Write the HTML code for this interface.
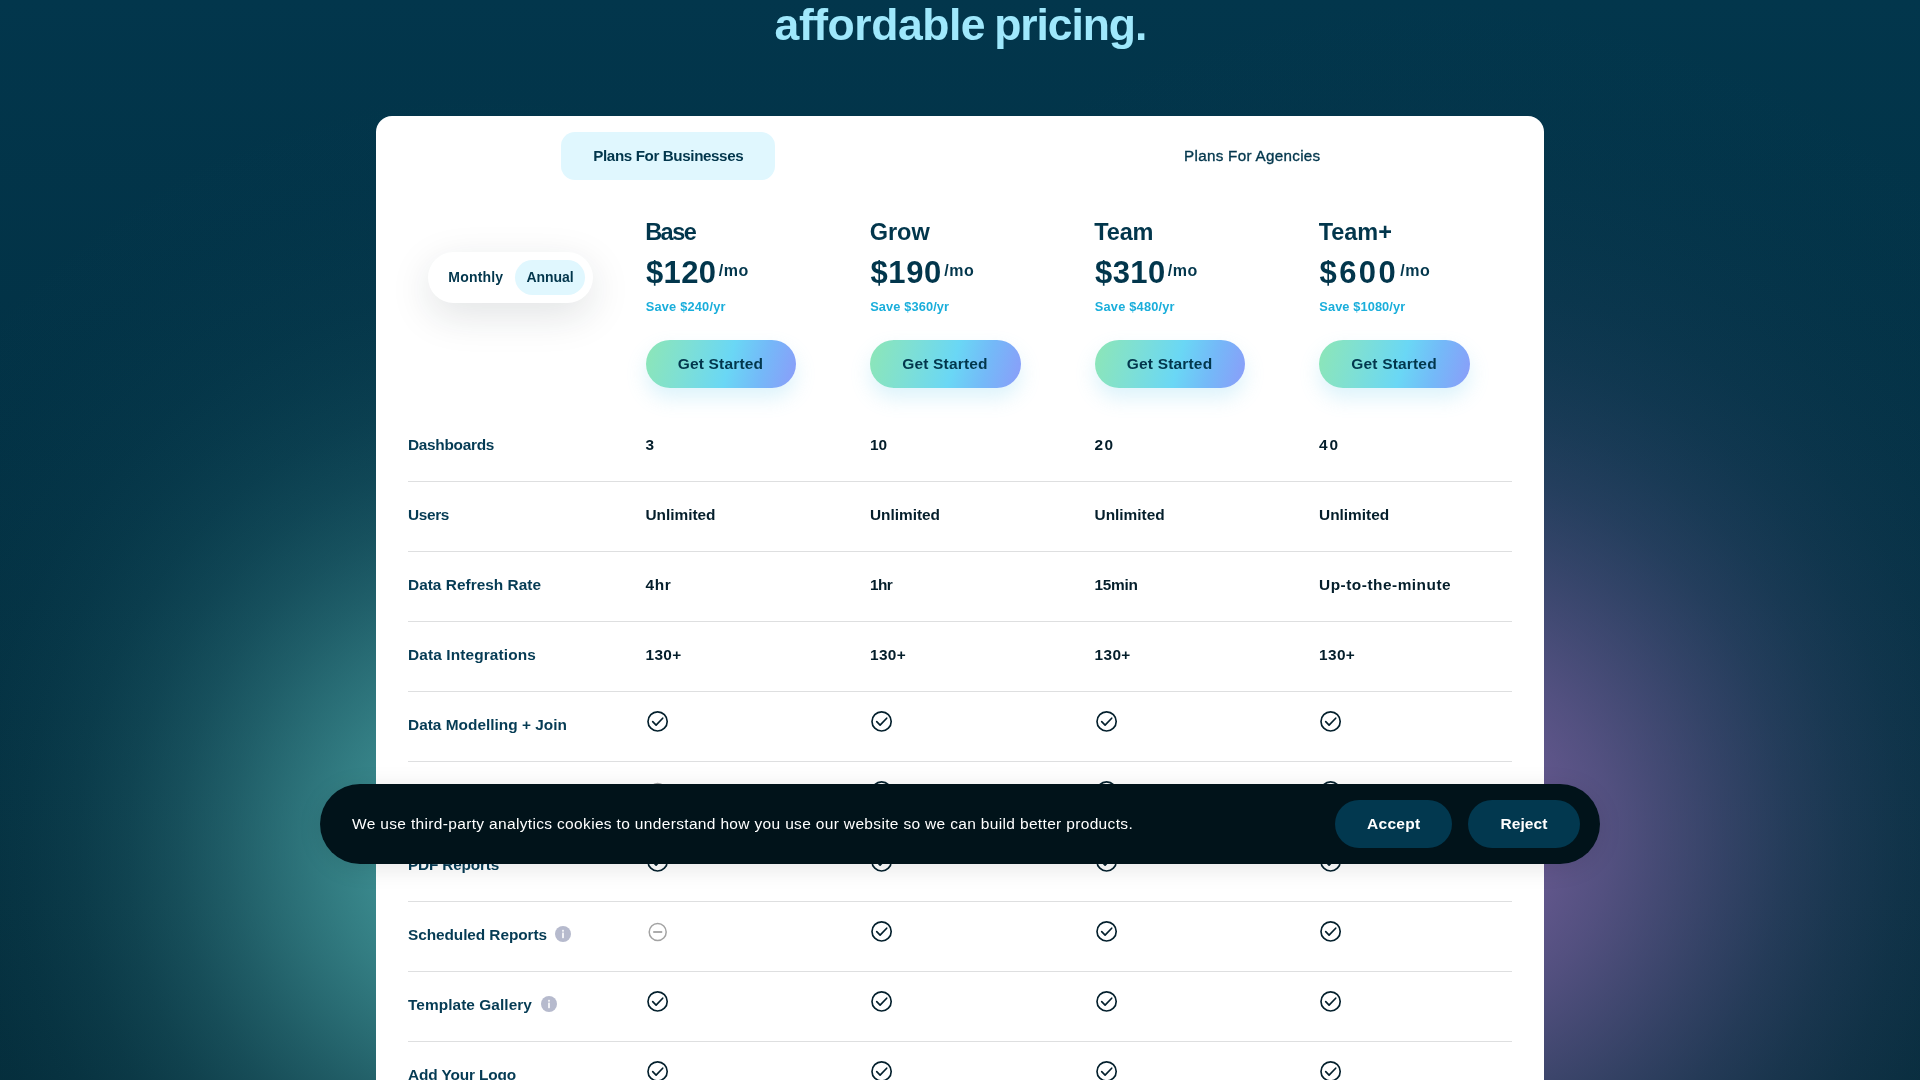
<!DOCTYPE html>
<html lang="en"><head><meta charset="utf-8"><title>Pricing</title>
<style>
*{box-sizing:border-box}
html,body{margin:0;padding:0;width:1920px;height:1080px;overflow:hidden}
body{background:#02364c;font-family:"Liberation Sans",sans-serif}
#page{position:relative;width:1920px;height:1080px;overflow:hidden}
.bg{position:absolute;left:0;top:0;width:1920px;height:1080px;overflow:hidden;background:radial-gradient(ellipse 708px 782px at 481px 850px,rgba(75,165,165,0.8800) 0.00%,rgba(75,165,165,0.8524) 7.14%,rgba(75,165,165,0.7746) 14.29%,rgba(75,165,165,0.6605) 21.43%,rgba(75,165,165,0.5283) 28.57%,rgba(75,165,165,0.3965) 35.71%,rgba(75,165,165,0.2792) 42.86%,rgba(75,165,165,0.1845) 50.00%,rgba(75,165,165,0.1143) 57.14%,rgba(75,165,165,0.0665) 64.29%,rgba(75,165,165,0.0363) 71.43%,rgba(75,165,165,0.0186) 78.57%,rgba(75,165,165,0.0089) 85.71%,rgba(75,165,165,0.0040) 92.86%,rgba(75,165,165,0.0000) 100.00%),radial-gradient(ellipse 812px 860px at 1438px 835px,rgba(117,95,156,0.9300) 0.00%,rgba(117,95,156,0.9008) 7.14%,rgba(117,95,156,0.8186) 14.29%,rgba(117,95,156,0.6980) 21.43%,rgba(117,95,156,0.5583) 28.57%,rgba(117,95,156,0.4191) 35.71%,rgba(117,95,156,0.2951) 42.86%,rgba(117,95,156,0.1949) 50.00%,rgba(117,95,156,0.1208) 57.14%,rgba(117,95,156,0.0703) 64.29%,rgba(117,95,156,0.0383) 71.43%,rgba(117,95,156,0.0196) 78.57%,rgba(117,95,156,0.0094) 85.71%,rgba(117,95,156,0.0042) 92.86%,rgba(117,95,156,0.0000) 100.00%),linear-gradient(180deg,#02364c 0%,#032b3a 100%)}
.card{position:absolute;left:376px;top:116px;width:1168px;height:964px;background:#fff;border-radius:16px 16px 0 0}
.L{position:absolute;left:0;top:0;width:1920px;height:1080px;will-change:transform}
.t{position:absolute;white-space:nowrap;display:block}
.tab{position:absolute;left:561px;top:132px;width:214px;height:48px;border-radius:14px;background:#e0f7fe}
.tog{position:absolute;left:428px;top:252px;width:165px;height:51px;border-radius:26px;background:#fff;box-shadow:0 12px 40px rgba(20,40,50,.13)}
.togon{position:absolute;left:515px;top:260px;width:70px;height:35px;border-radius:18px;background:#e0f7fe}
.btn{position:absolute;top:340px;width:150.4px;height:48px;border-radius:24px;background:linear-gradient(105deg,#8de6b6 0%,#7ddfd6 28%,#6ad7f5 55%,#74b9f8 76%,#8b9cf9 100%);box-shadow:0 10px 20px rgba(96,200,235,.22)}
.hr{position:absolute;left:408px;width:1104px;height:1px;background:#dedfe0}
.ic{position:absolute;display:block}
.banner{position:absolute;left:320px;top:784px;width:1280px;height:80px;border-radius:40px;background:#01131a;box-shadow:0 4px 24px rgba(0,0,0,.1)}
.cb{position:absolute;top:800px;height:48px;border-radius:24px;background:#02384f}
</style></head><body>
<div id="page">
<div class="bg"></div>
<div class="card"></div>
<div class="tab"></div>
<div class="tog"></div><div class="togon"></div>
<div class="L">
<span class="t " style="left:774.60px;top:-3.00px;font-size:44.5px;line-height:56px;font-weight:700;color:#9fe8fc;letter-spacing:-0.463px;">affordable</span>
<span class="t " style="left:994.20px;top:-3.00px;font-size:44.5px;line-height:56px;font-weight:700;color:#9fe8fc;letter-spacing:-1.090px;">pricing.</span>
<span class="t " style="left:593.30px;top:146.00px;font-size:15.2px;line-height:19px;font-weight:700;color:#02364c;letter-spacing:-0.393px;">Plans For Businesses</span>
<span class="t " style="left:1184.00px;top:146.00px;font-size:15.2px;line-height:19px;font-weight:400;color:#02364c;letter-spacing:0.313px;-webkit-text-stroke:0.35px #02364c;">Plans For Agencies</span>
<span class="t " style="left:448.30px;top:268.00px;font-size:14px;line-height:18px;font-weight:700;color:#02364c;letter-spacing:0.192px;">Monthly</span>
<span class="t " style="left:526.50px;top:268.00px;font-size:14px;line-height:18px;font-weight:700;color:#02364c;letter-spacing:-0.076px;">Annual</span>
<span class="t " style="left:645.20px;top:218.00px;font-size:23.5px;line-height:29px;font-weight:700;color:#02364c;letter-spacing:-1.547px;">Base</span>
<span class="t " style="left:646.00px;top:253.00px;font-size:31px;line-height:39px;font-weight:700;color:#02364c;letter-spacing:0.383px;">$120</span>
<span class="t " style="left:718.70px;top:260.60px;font-size:16px;line-height:20px;font-weight:700;color:#02364c;letter-spacing:0.516px;">/mo</span>
<span class="t " style="left:645.70px;top:299.00px;font-size:12.8px;line-height:16px;font-weight:700;color:#1aaedb;letter-spacing:0.203px;">Save $240/yr</span>
<div class="btn" style="left:645.7px"></div>
<span class="t " style="left:677.70px;top:354.00px;font-size:15.5px;line-height:19px;font-weight:700;color:#02364c;letter-spacing:0.176px;">Get Started</span>
<span class="t " style="left:869.70px;top:218.00px;font-size:23.5px;line-height:29px;font-weight:700;color:#02364c;letter-spacing:-0.016px;">Grow</span>
<span class="t " style="left:870.50px;top:253.00px;font-size:31px;line-height:39px;font-weight:700;color:#02364c;letter-spacing:0.633px;">$190</span>
<span class="t " style="left:944.20px;top:260.60px;font-size:16px;line-height:20px;font-weight:700;color:#02364c;letter-spacing:0.516px;">/mo</span>
<span class="t " style="left:870.20px;top:299.00px;font-size:12.8px;line-height:16px;font-weight:700;color:#1aaedb;letter-spacing:0.120px;">Save $360/yr</span>
<div class="btn" style="left:870.2px"></div>
<span class="t " style="left:902.20px;top:354.00px;font-size:15.5px;line-height:19px;font-weight:700;color:#02364c;letter-spacing:0.176px;">Get Started</span>
<span class="t " style="left:1094.30px;top:218.00px;font-size:23.5px;line-height:29px;font-weight:700;color:#02364c;letter-spacing:-0.164px;">Team</span>
<span class="t " style="left:1095.10px;top:253.00px;font-size:31px;line-height:39px;font-weight:700;color:#02364c;letter-spacing:0.383px;">$310</span>
<span class="t " style="left:1167.80px;top:260.60px;font-size:16px;line-height:20px;font-weight:700;color:#02364c;letter-spacing:0.516px;">/mo</span>
<span class="t " style="left:1094.80px;top:299.00px;font-size:12.8px;line-height:16px;font-weight:700;color:#1aaedb;letter-spacing:0.203px;">Save $480/yr</span>
<div class="btn" style="left:1094.8px"></div>
<span class="t " style="left:1126.80px;top:354.00px;font-size:15.5px;line-height:19px;font-weight:700;color:#02364c;letter-spacing:0.176px;">Get Started</span>
<span class="t " style="left:1318.80px;top:218.00px;font-size:23.5px;line-height:29px;font-weight:700;color:#02364c;letter-spacing:-0.075px;">Team+</span>
<span class="t " style="left:1319.60px;top:253.00px;font-size:31px;line-height:39px;font-weight:700;color:#02364c;letter-spacing:2.383px;">$600</span>
<span class="t " style="left:1400.30px;top:260.60px;font-size:16px;line-height:20px;font-weight:700;color:#02364c;letter-spacing:0.516px;">/mo</span>
<span class="t " style="left:1319.30px;top:299.00px;font-size:12.8px;line-height:16px;font-weight:700;color:#1aaedb;letter-spacing:0.101px;">Save $1080/yr</span>
<div class="btn" style="left:1319.3px"></div>
<span class="t " style="left:1351.30px;top:354.00px;font-size:15.5px;line-height:19px;font-weight:700;color:#02364c;letter-spacing:0.176px;">Get Started</span>
<span class="t " style="left:408.00px;top:435.00px;font-size:15.4px;line-height:19px;font-weight:700;color:#053b54;letter-spacing:-0.295px;">Dashboards</span>
<span class="t " style="left:645.50px;top:435.00px;font-size:15.4px;line-height:19px;font-weight:700;color:#041e2b;letter-spacing:0.438px;">3</span>
<span class="t " style="left:870.00px;top:435.00px;font-size:15.4px;line-height:19px;font-weight:700;color:#041e2b;letter-spacing:-0.062px;">10</span>
<span class="t " style="left:1094.60px;top:435.00px;font-size:15.4px;line-height:19px;font-weight:700;color:#041e2b;letter-spacing:1.438px;">20</span>
<span class="t " style="left:1319.10px;top:435.00px;font-size:15.4px;line-height:19px;font-weight:700;color:#041e2b;letter-spacing:1.938px;">40</span>
<div class="hr" style="top:481px"></div>
<span class="t " style="left:408.00px;top:505.00px;font-size:15.4px;line-height:19px;font-weight:700;color:#053b54;letter-spacing:-0.359px;">Users</span>
<span class="t " style="left:645.50px;top:505.00px;font-size:15.4px;line-height:19px;font-weight:700;color:#041e2b;letter-spacing:-0.014px;">Unlimited</span>
<span class="t " style="left:870.00px;top:505.00px;font-size:15.4px;line-height:19px;font-weight:700;color:#041e2b;letter-spacing:-0.014px;">Unlimited</span>
<span class="t " style="left:1094.60px;top:505.00px;font-size:15.4px;line-height:19px;font-weight:700;color:#041e2b;letter-spacing:-0.014px;">Unlimited</span>
<span class="t " style="left:1319.10px;top:505.00px;font-size:15.4px;line-height:19px;font-weight:700;color:#041e2b;letter-spacing:-0.014px;">Unlimited</span>
<div class="hr" style="top:551px"></div>
<span class="t " style="left:408.00px;top:575.00px;font-size:15.4px;line-height:19px;font-weight:700;color:#053b54;letter-spacing:0.024px;">Data Refresh Rate</span>
<span class="t " style="left:645.50px;top:575.00px;font-size:15.4px;line-height:19px;font-weight:700;color:#041e2b;letter-spacing:0.682px;">4hr</span>
<span class="t " style="left:870.00px;top:575.00px;font-size:15.4px;line-height:19px;font-weight:700;color:#041e2b;letter-spacing:-0.651px;">1hr</span>
<span class="t " style="left:1094.60px;top:575.00px;font-size:15.4px;line-height:19px;font-weight:700;color:#041e2b;letter-spacing:-0.297px;">15min</span>
<span class="t " style="left:1319.10px;top:575.00px;font-size:15.4px;line-height:19px;font-weight:700;color:#041e2b;letter-spacing:0.503px;">Up-to-the-minute</span>
<div class="hr" style="top:621px"></div>
<span class="t " style="left:408.00px;top:645.00px;font-size:15.4px;line-height:19px;font-weight:700;color:#053b54;letter-spacing:0.134px;">Data Integrations</span>
<span class="t " style="left:645.50px;top:645.00px;font-size:15.4px;line-height:19px;font-weight:700;color:#041e2b;letter-spacing:0.332px;">130+</span>
<span class="t " style="left:870.00px;top:645.00px;font-size:15.4px;line-height:19px;font-weight:700;color:#041e2b;letter-spacing:0.332px;">130+</span>
<span class="t " style="left:1094.60px;top:645.00px;font-size:15.4px;line-height:19px;font-weight:700;color:#041e2b;letter-spacing:0.332px;">130+</span>
<span class="t " style="left:1319.10px;top:645.00px;font-size:15.4px;line-height:19px;font-weight:700;color:#041e2b;letter-spacing:0.332px;">130+</span>
<div class="hr" style="top:691px"></div>
<span class="t " style="left:408.00px;top:715.00px;font-size:15.4px;line-height:19px;font-weight:700;color:#053b54;letter-spacing:0.017px;">Data Modelling + Join</span>
<svg class="ic" style="left:646px;top:710px" width="24" height="24" viewBox="0 0 24 24" fill="none" stroke="#04202d" stroke-width="1.65" stroke-linecap="round" stroke-linejoin="round"><circle cx="11.6" cy="11.4" r="9.6"/><path d="M6.7 11.6l3.4 3.5 6.6-6.9"/></svg>
<svg class="ic" style="left:870px;top:710px" width="24" height="24" viewBox="0 0 24 24" fill="none" stroke="#04202d" stroke-width="1.65" stroke-linecap="round" stroke-linejoin="round"><circle cx="11.6" cy="11.4" r="9.6"/><path d="M6.7 11.6l3.4 3.5 6.6-6.9"/></svg>
<svg class="ic" style="left:1095px;top:710px" width="24" height="24" viewBox="0 0 24 24" fill="none" stroke="#04202d" stroke-width="1.65" stroke-linecap="round" stroke-linejoin="round"><circle cx="11.6" cy="11.4" r="9.6"/><path d="M6.7 11.6l3.4 3.5 6.6-6.9"/></svg>
<svg class="ic" style="left:1319px;top:710px" width="24" height="24" viewBox="0 0 24 24" fill="none" stroke="#04202d" stroke-width="1.65" stroke-linecap="round" stroke-linejoin="round"><circle cx="11.6" cy="11.4" r="9.6"/><path d="M6.7 11.6l3.4 3.5 6.6-6.9"/></svg>
<div class="hr" style="top:761px"></div>
<span class="t " style="left:408.00px;top:785.00px;font-size:15.4px;line-height:19px;font-weight:700;color:#053b54;letter-spacing:0.148px;">White Label</span>
<svg class="ic" style="left:646px;top:780px" width="24" height="24" viewBox="0 0 24 24" fill="none" stroke="#a3a3a3" stroke-width="1.5"><circle cx="11.7" cy="12" r="8.5"/><path d="M7.2 12h9" stroke-width="1.8"/></svg>
<svg class="ic" style="left:870px;top:780px" width="24" height="24" viewBox="0 0 24 24" fill="none" stroke="#04202d" stroke-width="1.65" stroke-linecap="round" stroke-linejoin="round"><circle cx="11.6" cy="11.4" r="9.6"/><path d="M6.7 11.6l3.4 3.5 6.6-6.9"/></svg>
<svg class="ic" style="left:1095px;top:780px" width="24" height="24" viewBox="0 0 24 24" fill="none" stroke="#04202d" stroke-width="1.65" stroke-linecap="round" stroke-linejoin="round"><circle cx="11.6" cy="11.4" r="9.6"/><path d="M6.7 11.6l3.4 3.5 6.6-6.9"/></svg>
<svg class="ic" style="left:1319px;top:780px" width="24" height="24" viewBox="0 0 24 24" fill="none" stroke="#04202d" stroke-width="1.65" stroke-linecap="round" stroke-linejoin="round"><circle cx="11.6" cy="11.4" r="9.6"/><path d="M6.7 11.6l3.4 3.5 6.6-6.9"/></svg>
<div class="hr" style="top:831px"></div>
<span class="t " style="left:408.00px;top:855.00px;font-size:15.4px;line-height:19px;font-weight:700;color:#053b54;letter-spacing:-0.202px;">PDF Reports</span>
<svg class="ic" style="left:646px;top:850px" width="24" height="24" viewBox="0 0 24 24" fill="none" stroke="#04202d" stroke-width="1.65" stroke-linecap="round" stroke-linejoin="round"><circle cx="11.6" cy="11.4" r="9.6"/><path d="M6.7 11.6l3.4 3.5 6.6-6.9"/></svg>
<svg class="ic" style="left:870px;top:850px" width="24" height="24" viewBox="0 0 24 24" fill="none" stroke="#04202d" stroke-width="1.65" stroke-linecap="round" stroke-linejoin="round"><circle cx="11.6" cy="11.4" r="9.6"/><path d="M6.7 11.6l3.4 3.5 6.6-6.9"/></svg>
<svg class="ic" style="left:1095px;top:850px" width="24" height="24" viewBox="0 0 24 24" fill="none" stroke="#04202d" stroke-width="1.65" stroke-linecap="round" stroke-linejoin="round"><circle cx="11.6" cy="11.4" r="9.6"/><path d="M6.7 11.6l3.4 3.5 6.6-6.9"/></svg>
<svg class="ic" style="left:1319px;top:850px" width="24" height="24" viewBox="0 0 24 24" fill="none" stroke="#04202d" stroke-width="1.65" stroke-linecap="round" stroke-linejoin="round"><circle cx="11.6" cy="11.4" r="9.6"/><path d="M6.7 11.6l3.4 3.5 6.6-6.9"/></svg>
<div class="hr" style="top:901px"></div>
<span class="t " style="left:408.00px;top:925.00px;font-size:15.4px;line-height:19px;font-weight:700;color:#053b54;letter-spacing:-0.074px;">Scheduled Reports</span>
<svg class="ic" style="left:555px;top:926px" width="16" height="16" viewBox="0 0 16 16"><circle cx="8" cy="8" r="8" fill="#b6bacd"/><rect x="7" y="6.6" width="2" height="5.6" rx=".6" fill="#f1f2f6"/><rect x="7" y="3.8" width="2" height="1.9" rx=".6" fill="#f1f2f6"/></svg>
<svg class="ic" style="left:646px;top:920px" width="24" height="24" viewBox="0 0 24 24" fill="none" stroke="#a3a3a3" stroke-width="1.5"><circle cx="11.7" cy="12" r="8.5"/><path d="M7.2 12h9" stroke-width="1.8"/></svg>
<svg class="ic" style="left:870px;top:920px" width="24" height="24" viewBox="0 0 24 24" fill="none" stroke="#04202d" stroke-width="1.65" stroke-linecap="round" stroke-linejoin="round"><circle cx="11.6" cy="11.4" r="9.6"/><path d="M6.7 11.6l3.4 3.5 6.6-6.9"/></svg>
<svg class="ic" style="left:1095px;top:920px" width="24" height="24" viewBox="0 0 24 24" fill="none" stroke="#04202d" stroke-width="1.65" stroke-linecap="round" stroke-linejoin="round"><circle cx="11.6" cy="11.4" r="9.6"/><path d="M6.7 11.6l3.4 3.5 6.6-6.9"/></svg>
<svg class="ic" style="left:1319px;top:920px" width="24" height="24" viewBox="0 0 24 24" fill="none" stroke="#04202d" stroke-width="1.65" stroke-linecap="round" stroke-linejoin="round"><circle cx="11.6" cy="11.4" r="9.6"/><path d="M6.7 11.6l3.4 3.5 6.6-6.9"/></svg>
<div class="hr" style="top:971px"></div>
<span class="t " style="left:408.00px;top:995.00px;font-size:15.4px;line-height:19px;font-weight:700;color:#053b54;letter-spacing:0.068px;">Template Gallery</span>
<svg class="ic" style="left:541px;top:996px" width="16" height="16" viewBox="0 0 16 16"><circle cx="8" cy="8" r="8" fill="#b6bacd"/><rect x="7" y="6.6" width="2" height="5.6" rx=".6" fill="#f1f2f6"/><rect x="7" y="3.8" width="2" height="1.9" rx=".6" fill="#f1f2f6"/></svg>
<svg class="ic" style="left:646px;top:990px" width="24" height="24" viewBox="0 0 24 24" fill="none" stroke="#04202d" stroke-width="1.65" stroke-linecap="round" stroke-linejoin="round"><circle cx="11.6" cy="11.4" r="9.6"/><path d="M6.7 11.6l3.4 3.5 6.6-6.9"/></svg>
<svg class="ic" style="left:870px;top:990px" width="24" height="24" viewBox="0 0 24 24" fill="none" stroke="#04202d" stroke-width="1.65" stroke-linecap="round" stroke-linejoin="round"><circle cx="11.6" cy="11.4" r="9.6"/><path d="M6.7 11.6l3.4 3.5 6.6-6.9"/></svg>
<svg class="ic" style="left:1095px;top:990px" width="24" height="24" viewBox="0 0 24 24" fill="none" stroke="#04202d" stroke-width="1.65" stroke-linecap="round" stroke-linejoin="round"><circle cx="11.6" cy="11.4" r="9.6"/><path d="M6.7 11.6l3.4 3.5 6.6-6.9"/></svg>
<svg class="ic" style="left:1319px;top:990px" width="24" height="24" viewBox="0 0 24 24" fill="none" stroke="#04202d" stroke-width="1.65" stroke-linecap="round" stroke-linejoin="round"><circle cx="11.6" cy="11.4" r="9.6"/><path d="M6.7 11.6l3.4 3.5 6.6-6.9"/></svg>
<div class="hr" style="top:1041px"></div>
<span class="t " style="left:408.00px;top:1065.00px;font-size:15.4px;line-height:19px;font-weight:700;color:#053b54;letter-spacing:-0.132px;">Add Your Logo</span>
<svg class="ic" style="left:646px;top:1060px" width="24" height="24" viewBox="0 0 24 24" fill="none" stroke="#04202d" stroke-width="1.65" stroke-linecap="round" stroke-linejoin="round"><circle cx="11.6" cy="11.4" r="9.6"/><path d="M6.7 11.6l3.4 3.5 6.6-6.9"/></svg>
<svg class="ic" style="left:870px;top:1060px" width="24" height="24" viewBox="0 0 24 24" fill="none" stroke="#04202d" stroke-width="1.65" stroke-linecap="round" stroke-linejoin="round"><circle cx="11.6" cy="11.4" r="9.6"/><path d="M6.7 11.6l3.4 3.5 6.6-6.9"/></svg>
<svg class="ic" style="left:1095px;top:1060px" width="24" height="24" viewBox="0 0 24 24" fill="none" stroke="#04202d" stroke-width="1.65" stroke-linecap="round" stroke-linejoin="round"><circle cx="11.6" cy="11.4" r="9.6"/><path d="M6.7 11.6l3.4 3.5 6.6-6.9"/></svg>
<svg class="ic" style="left:1319px;top:1060px" width="24" height="24" viewBox="0 0 24 24" fill="none" stroke="#04202d" stroke-width="1.65" stroke-linecap="round" stroke-linejoin="round"><circle cx="11.6" cy="11.4" r="9.6"/><path d="M6.7 11.6l3.4 3.5 6.6-6.9"/></svg>
</div>
<div class="banner"></div>
<div class="cb" style="left:1335px;width:117px"></div>
<div class="cb" style="left:1468px;width:112px"></div>
<div class="L">
<span class="t " style="left:352.00px;top:813.80px;font-size:15.5px;line-height:19px;font-weight:400;color:#ffffff;letter-spacing:0.337px;">We use third-party analytics cookies to understand how you use our website so we can build better products.</span>
<span class="t " style="left:1367.00px;top:813.80px;font-size:15.5px;line-height:19px;font-weight:700;color:#ffffff;letter-spacing:0.302px;">Accept</span>
<span class="t " style="left:1500.50px;top:813.80px;font-size:15.5px;line-height:19px;font-weight:700;color:#ffffff;letter-spacing:0.078px;">Reject</span>
</div>
</div>
</body></html>
